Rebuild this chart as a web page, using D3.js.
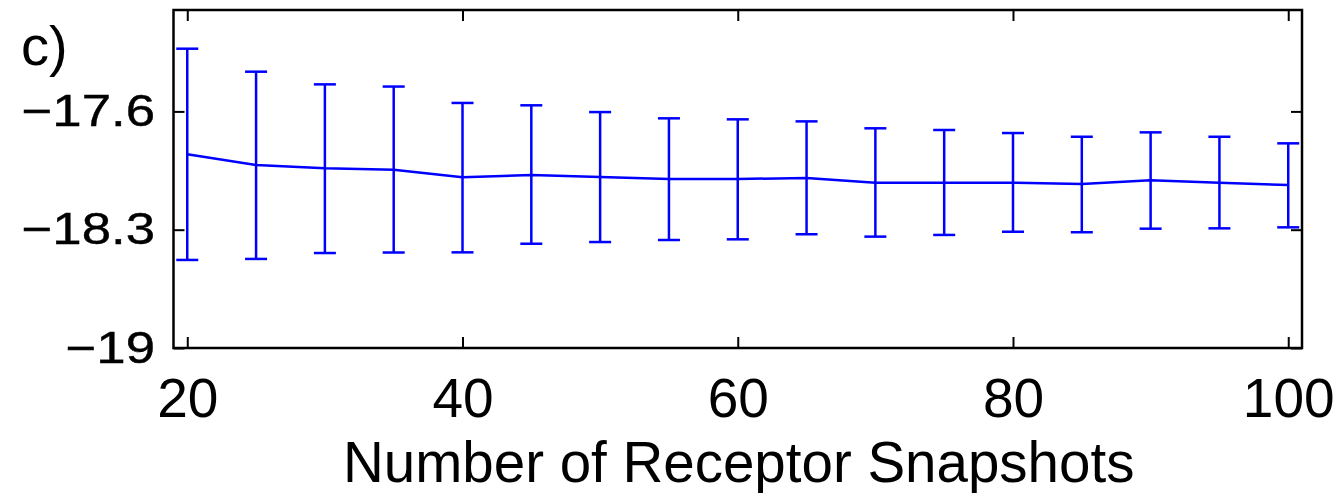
<!DOCTYPE html>
<html>
<head>
<meta charset="utf-8">
<script src="https://cdn.jsdelivr.net/npm/d3@7"></script>
<style>
  html, body { margin: 0; padding: 0; background: #fff; }
  svg { display: block; font-family: "Liberation Sans", Arial, Helvetica, sans-serif; }
</style>
</head>
<body>
<svg id="chart" width="1337" height="493"></svg>
<script>
// snapshot counts on the x axis
const snapshots = [20, 25, 30, 35, 40, 45, 50, 55, 60, 65, 70, 75, 80, 85, 90, 95, 100];
// mean value per count
const means = [-17.854, -17.917, -17.937, -17.945, -17.990, -17.976, -17.988, -18.000, -18.000,
  -17.994, -18.022, -18.022, -18.022, -18.030, -18.008, -18.022, -18.036];
// error bar ends
const upper = [-17.229, -17.365, -17.440, -17.453, -17.550, -17.564, -17.604, -17.641, -17.647,
  -17.659, -17.700, -17.710, -17.728, -17.750, -17.724, -17.750, -17.789];
const lower = [-18.479, -18.473, -18.438, -18.435, -18.434, -18.383, -18.373, -18.361, -18.357,
  -18.327, -18.341, -18.331, -18.312, -18.315, -18.294, -18.292, -18.286];

const xTicks = [20, 40, 60, 80, 100];
const yTicks = [-19, -18.3, -17.6];
const xLabel = "Number of Receptor Snapshots";
const panelLabel = "c)";

let blue = "#0000ff";
let margin = { left: 173.5, top: 10, right: 35, bottom: 145 };
let w = 1337 - margin.left - margin.right;
let h = 493 - margin.top - margin.bottom;

const svg = d3.select("#chart");
const g = svg.append("g").attr("transform", `translate(${margin.left},${margin.top})`);

const x = d3.scaleLinear().domain([19, 101]).range([0, w]);
const y = d3.scaleLinear().domain([-19, -17]).range([h, 0]);

const data = snapshots.map((s, i) => ({ s: s, m: means[i], hi: upper[i], lo: lower[i] }));

// axes, ticks pointing inward
const fmtY = (d) => (d < 0 ? "\u2212" : "") + Math.abs(d);

const gx = g.append("g")
  .attr("transform", `translate(0,${h})`)
  .call(d3.axisBottom(x).tickValues(xTicks).tickSize(-11).tickPadding(30));
g.append("g").call(d3.axisTop(x).tickValues(xTicks).tickSize(-11).tickFormat(""));
const gy = g.append("g")
  .call(d3.axisLeft(y).tickValues(yTicks).tickSize(-11).tickPadding(18.5).tickFormat(fmtY));
g.append("g")
  .attr("transform", `translate(${w},0)`)
  .call(d3.axisRight(y).tickValues(yTicks).tickSize(-11).tickFormat(""));

g.selectAll(".domain").remove();
g.selectAll(".tick line").attr("stroke", "#000").attr("stroke-width", 2);

gx.selectAll("text").attr("font-size", 55).attr("fill", "#000");
gy.selectAll("text")
  .attr("font-size", 44)
  .attr("fill", "#000")
  .attr("stroke", "#000")
  .attr("stroke-width", 0.4)
  .attr("x", 0)
  .attr("transform", "translate(-18.5,0) scale(1.2,1)");

// frame
g.append("rect")
  .attr("width", w)
  .attr("height", h)
  .attr("fill", "none")
  .attr("stroke", "#000")
  .attr("stroke-width", 2.5);

// error bars
const bars = g.append("g").attr("stroke", blue).attr("stroke-width", 2.5);
bars.selectAll(".stem")
  .data(data)
  .enter()
  .append("line")
  .attr("x1", (d) => x(d.s))
  .attr("x2", (d) => x(d.s))
  .attr("y1", (d) => y(d.hi))
  .attr("y2", (d) => y(d.lo));
bars.selectAll(".capTop")
  .data(data)
  .enter()
  .append("line")
  .attr("x1", (d) => x(d.s) - 11)
  .attr("x2", (d) => x(d.s) + 11)
  .attr("y1", (d) => y(d.hi))
  .attr("y2", (d) => y(d.hi));
bars.selectAll(".capBot")
  .data(data)
  .enter()
  .append("line")
  .attr("x1", (d) => x(d.s) - 11)
  .attr("x2", (d) => x(d.s) + 11)
  .attr("y1", (d) => y(d.lo))
  .attr("y2", (d) => y(d.lo));

// mean line
g.append("path")
  .datum(data)
  .attr("fill", "none")
  .attr("stroke", blue)
  .attr("stroke-width", 2.5)
  .attr("stroke-linejoin", "round")
  .attr("d", d3.line().x((d) => x(d.s)).y((d) => y(d.m)));

// texts
svg.append("text")
  .attr("x", 343)
  .attr("y", 482)
  .attr("font-size", 56.5)
  .text(xLabel);

svg.append("text")
  .attr("x", 21)
  .attr("y", 65)
  .attr("font-size", 56)
  .text(panelLabel);
</script>
</body>
</html>
